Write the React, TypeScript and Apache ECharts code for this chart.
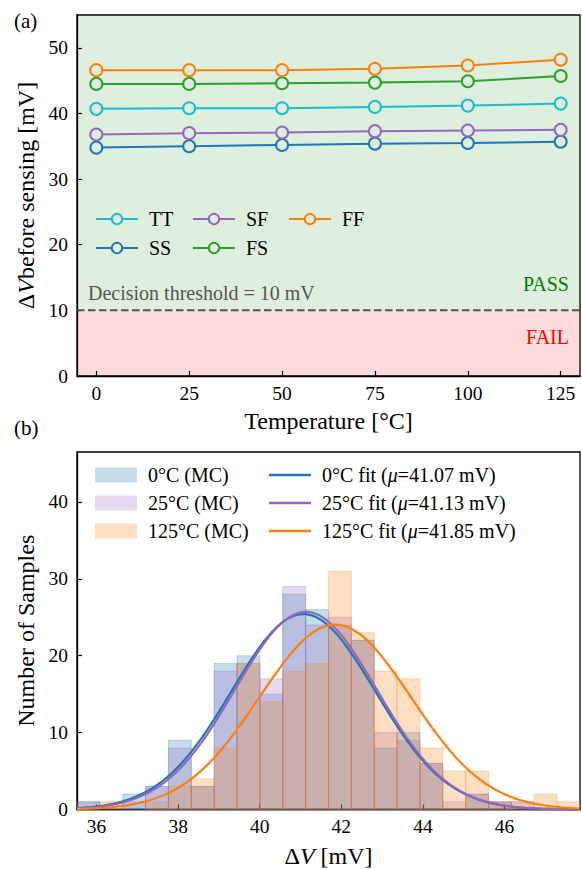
import React, { useEffect, useRef } from 'react';
import * as echarts from 'echarts';

// ---------- (a) data ----------
const temps = [0, 25, 50, 75, 100, 125];
const cornerNames = ['TT', 'SS', 'SF', 'FS', 'FF'];
const ttValues = [40.7, 40.8, 40.8, 41.0, 41.2, 41.5];
const ssValues = [34.8, 35.0, 35.2, 35.4, 35.5, 35.7];
const sfValues = [36.8, 37.0, 37.1, 37.3, 37.4, 37.5];
const fsValues = [44.5, 44.5, 44.6, 44.7, 44.9, 45.7];
const ffValues = [46.6, 46.6, 46.6, 46.8, 47.3, 48.2];
const cornerColors = ['#17becf', '#1f77b4', '#9467bd', '#2ca02c', '#ff7f0e'];
const threshold = 10;
const tempTicks = [0, 25, 50, 75, 100, 125];
const dvTicks = [0, 10, 20, 30, 40, 50];
const xMinTop = -5.2;
const xMaxTop = 130.2;
const yMaxTop = 55;

// ---------- (b) data ----------
const binStart = 35.52;
const binWidth = 0.5605;
const counts0C = [1, 0, 2, 3, 9, 3, 19, 20, 15, 28, 26, 24, 22, 8, 10, 6, 0, 2, 1, 0, 0, 0];
const counts25C = [1, 0, 1, 3, 8, 3, 18, 19, 17, 29, 24, 25, 22, 10, 9, 6, 1, 2, 1, 1, 0, 0];
const counts125C = [0, 1, 0, 1, 3, 4, 8, 19, 14, 18, 19, 31, 23, 18, 17, 8, 5, 5, 1, 1, 2, 1];
const histNames = ['0°C (MC)', '25°C (MC)', '125°C (MC)'];
const fitNames = ['0°C fit (μ=41.07 mV)', '25°C fit (μ=41.13 mV)', '125°C fit (μ=41.85 mV)'];
const fitMeans = [41.07, 41.13, 41.85];
const fitSigmas = [1.76, 1.74, 1.86];
const sampleCount = 200;
const histColors = ['#1f77b4', '#9467bd', '#ff7f0e'];
const histFills = ['rgba(31,119,180,0.25)', 'rgba(148,103,189,0.25)', 'rgba(255,127,14,0.25)'];
const mvTicks = [36, 38, 40, 42, 44, 46];
const countTicks = [0, 10, 20, 30, 40];
const yMaxBot = 46.5;

const FONT = '"Liberation Serif", "Times New Roman", serif';
const passBg = 'rgba(0,128,0,0.13)';
const failBg = 'rgba(255,0,0,0.14)';
const markerFill = '#deeede';

export default function App() {
  const ref = useRef<HTMLDivElement>(null);
  useEffect(() => {
    if (!ref.current) return;
    const chart = echarts.init(ref.current, undefined, { renderer: 'svg' });

    const cornerValues = [ttValues, ssValues, sfValues, fsValues, ffValues];
    const xMaxBot = binStart + counts0C.length * binWidth;

    const histData = (counts: number[]) =>
      counts
        .map((c, i) => [binStart + i * binWidth, binStart + (i + 1) * binWidth, c])
        .filter((d) => d[2] > 0);

    const fitX: number[] = [];
    for (let x = binStart; x <= xMaxBot + 1e-9; x += 0.04) fitX.push(x);
    const fitCurve = (mu: number, sigma: number) => {
      const a = (sampleCount * binWidth) / (sigma * Math.sqrt(2 * Math.PI));
      return fitX.map((x) => [x, a * Math.exp(-0.5 * ((x - mu) / sigma) ** 2)]);
    };

    const axisLabelStyle = { fontFamily: FONT, fontSize: 19.5, color: '#000' };
    const tick = { show: true, inside: true, length: 5, lineStyle: { color: '#000', width: 1.2 } };
    const axisLine = { show: true, onZero: false, lineStyle: { color: '#000', width: 1.3 } };
    const nameStyle = {
      fontFamily: FONT,
      fontSize: 24,
      color: '#000',
      rich: {
        d: { fontFamily: FONT, fontSize: 24, color: '#000' },
        i: { fontFamily: FONT, fontSize: 24, color: '#000', fontStyle: 'italic' },
      },
    };

    const legendText = {
      fontFamily: FONT,
      fontSize: 20,
      color: '#000',
      lineHeight: 20,
      padding: [0, 0, 0, 6],
      rich: { i: { fontFamily: FONT, fontSize: 20, color: '#000', fontStyle: 'italic' } },
    };

    const cornerSeries = cornerNames.map((name, k) => ({
      name,
      type: 'line',
      xAxisIndex: 0,
      yAxisIndex: 0,
      data: temps.map((t, i) => [t, cornerValues[k][i]]),
      symbol: 'circle',
      symbolSize: 12,
      showSymbol: true,
      lineStyle: { color: cornerColors[k], width: 2 },
      itemStyle: { color: markerFill, borderColor: cornerColors[k], borderWidth: 2 },
      z: 3 + k,
    }));

    const bandSeries = {
      type: 'custom',
      xAxisIndex: 0,
      yAxisIndex: 0,
      z: 0,
      silent: true,
      data: [
        [threshold, yMaxTop, 0],
        [0, threshold, 1],
      ],
      renderItem: (params: any, api: any) => {
        const p0 = api.coord([xMinTop, api.value(1)]);
        const p1 = api.coord([xMaxTop, api.value(0)]);
        return {
          type: 'rect',
          shape: { x: p0[0], y: p0[1], width: p1[0] - p0[0], height: p1[1] - p0[1] },
          style: { fill: api.value(2) === 0 ? passBg : failBg },
        };
      },
    };

    const thresholdSeries = {
      type: 'line',
      xAxisIndex: 0,
      yAxisIndex: 0,
      z: 1,
      silent: true,
      symbol: 'none',
      data: [
        [xMinTop, threshold],
        [xMaxTop, threshold],
      ],
      lineStyle: { color: '#555', width: 2, type: [7.5, 3.5] },
    };

    const histSeries = [counts0C, counts25C, counts125C].map((counts, k) => ({
      name: histNames[k],
      type: 'custom',
      xAxisIndex: 1,
      yAxisIndex: 1,
      z: 2 + k,
      itemStyle: { color: histFills[k] },
      encode: { x: [0, 1], y: 2 },
      data: histData(counts),
      renderItem: (params: any, api: any) => {
        const p0 = api.coord([api.value(0), api.value(2)]);
        const p1 = api.coord([api.value(1), 0]);
        return {
          type: 'rect',
          shape: { x: p0[0], y: p0[1], width: p1[0] - p0[0], height: p1[1] - p0[1] },
          style: { fill: histFills[k], stroke: histFills[k], lineWidth: 1 },
        };
      },
    }));

    const fitSeries = fitNames.map((name, k) => ({
      name,
      type: 'line',
      xAxisIndex: 1,
      yAxisIndex: 1,
      z: 10 + k,
      symbol: 'none',
      showSymbol: false,
      data: fitCurve(fitMeans[k], fitSigmas[k]),
      lineStyle: { color: histColors[k], width: 2.2 },
      itemStyle: { color: histColors[k] },
    }));

    const topLegend = (data: string[], left: number) => ({
      data,
      orient: 'vertical',
      left,
      top: 209,
      padding: 0,
      itemWidth: 42,
      itemHeight: 13,
      itemGap: 9,
      selectedMode: false,
      textStyle: legendText,
    });

    chart.setOption({
      animation: false,
      backgroundColor: '#fff',
      grid: [
        { left: 77, top: 15, width: 503, height: 361, show: true, borderColor: '#000', borderWidth: 1.3, backgroundColor: 'transparent' },
        { left: 77, top: 452, width: 503, height: 357.5, show: true, borderColor: '#000', borderWidth: 1.3, backgroundColor: 'transparent' },
      ],
      xAxis: [
        {
          type: 'value',
          gridIndex: 0,
          min: xMinTop,
          max: xMaxTop,
          axisLine,
          axisTick: { ...tick, customValues: tempTicks },
          axisLabel: { ...axisLabelStyle, margin: 7, customValues: tempTicks },
          splitLine: { show: false },
          name: 'Temperature [°C]',
          nameLocation: 'middle',
          nameGap: 33,
          nameTextStyle: nameStyle,
        },
        {
          type: 'value',
          gridIndex: 1,
          min: binStart,
          max: xMaxBot,
          axisLine,
          axisTick: { ...tick, customValues: mvTicks },
          axisLabel: { ...axisLabelStyle, margin: 7, customValues: mvTicks },
          splitLine: { show: false },
          name: '{d|Δ}{i|V} [mV]',
          nameLocation: 'middle',
          nameGap: 34,
          nameTextStyle: nameStyle,
        },
      ],
      yAxis: [
        {
          type: 'value',
          gridIndex: 0,
          min: 0,
          max: yMaxTop,
          axisLine,
          axisTick: { ...tick, customValues: dvTicks },
          axisLabel: { ...axisLabelStyle, margin: 9, customValues: dvTicks },
          splitLine: { show: false },
          name: '{d|Δ}{i|V}before sensing [mV]',
          nameLocation: 'middle',
          nameGap: 38,
          nameTextStyle: nameStyle,
        },
        {
          type: 'value',
          gridIndex: 1,
          min: 0,
          max: yMaxBot,
          axisLine,
          axisTick: { ...tick, customValues: countTicks },
          axisLabel: { ...axisLabelStyle, margin: 9, customValues: countTicks },
          splitLine: { show: false },
          name: 'Number of Samples',
          nameLocation: 'middle',
          nameGap: 38,
          nameTextStyle: nameStyle,
        },
      ],
      legend: [
        topLegend(['TT', 'SS'], 95),
        topLegend(['SF', 'FS'], 192),
        topLegend(['FF'], 288),
        {
          data: histNames.map((n) => ({ name: n, icon: 'rect' })),
          orient: 'vertical',
          left: 95,
          top: 465,
          padding: 0,
          itemWidth: 42,
          itemHeight: 15,
          itemGap: 8,
          selectedMode: false,
          textStyle: legendText,
        },
        {
          data: fitNames.map((n) => ({ name: n, icon: 'rect' })),
          orient: 'vertical',
          left: 269,
          top: 465,
          padding: 0,
          itemWidth: 42,
          itemHeight: 2.5,
          itemGap: 8,
          selectedMode: false,
          formatter: (name: string) => name.replace('μ', '{i|μ}'),
          textStyle: legendText,
        },
      ],
      graphic: [
        { type: 'text', x: 14, y: 21, style: { text: '(a)', font: `21px ${FONT}`, fill: '#000', textVerticalAlign: 'middle', verticalAlign: 'middle' } },
        { type: 'text', x: 14, y: 428, style: { text: '(b)', font: `21px ${FONT}`, fill: '#000', textVerticalAlign: 'middle', verticalAlign: 'middle' } },
        { type: 'text', x: 88, y: 293, z: 20, style: { text: 'Decision threshold = 10 mV', font: `20px ${FONT}`, fill: '#555', textVerticalAlign: 'middle', verticalAlign: 'middle' } },
        { type: 'text', x: 569, y: 284, z: 20, style: { text: 'PASS', font: `20px ${FONT}`, fill: '#008000', textAlign: 'right', align: 'right', textVerticalAlign: 'middle', verticalAlign: 'middle' } },
        { type: 'text', x: 569, y: 337, z: 20, style: { text: 'FAIL', font: `20px ${FONT}`, fill: '#ff0000', textAlign: 'right', align: 'right', textVerticalAlign: 'middle', verticalAlign: 'middle' } },
      ],
      series: [bandSeries, thresholdSeries, ...cornerSeries, ...histSeries, ...fitSeries],
    });

    return () => chart.dispose();
  }, []);

  return <div ref={ref} style={{ position: 'absolute', left: 0, top: 0, width: 582, height: 869 }} />;
}
